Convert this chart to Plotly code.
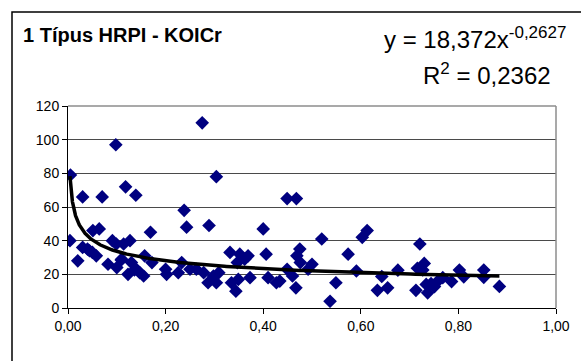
import numpy as np
import plotly.graph_objects as go

# ---- data ----
x_vals = [0.005, 0.004, 0.020, 0.030, 0.030, 0.040, 0.050, 0.058, 0.051, 0.064,
          0.070, 0.082, 0.091, 0.098, 0.099, 0.100, 0.110, 0.114, 0.118, 0.123,
          0.127, 0.130, 0.139, 0.140, 0.147, 0.155, 0.157, 0.169, 0.172, 0.200,
          0.202, 0.226, 0.233, 0.238, 0.243, 0.250, 0.263, 0.275, 0.278, 0.287,
          0.289, 0.298, 0.304, 0.304, 0.309, 0.332, 0.335, 0.344, 0.347, 0.349,
          0.352, 0.362, 0.369, 0.373, 0.400, 0.406, 0.410, 0.427, 0.434, 0.449,
          0.449, 0.460, 0.467, 0.468, 0.469, 0.475, 0.476, 0.492, 0.500, 0.520,
          0.537, 0.549, 0.574, 0.591, 0.603, 0.613, 0.634, 0.643, 0.655, 0.676,
          0.713, 0.716, 0.721, 0.730, 0.727, 0.734, 0.737, 0.744, 0.751, 0.760,
          0.768, 0.786, 0.802, 0.811, 0.852, 0.852, 0.884, 0.136, 0.109, 0.044]
y_vals = [79, 40, 28, 66, 36, 35, 33, 31, 46, 47,
          66, 26, 40, 97, 38, 24, 29, 38, 72, 20,
          40, 27, 67, 23, 21, 19, 31, 45, 27, 23,
          20, 21, 27, 58, 48, 23, 23, 110, 21, 15,
          49, 19, 78, 15, 21, 33, 15, 10, 27, 17,
          32, 29, 31, 18, 47, 32, 18, 15, 16, 65,
          23, 19, 12, 65, 31, 35, 27, 23, 26, 41,
          4, 15, 32, 22, 42, 46, 10.5, 18.7, 12, 22.5,
          10.5, 23.6, 38, 26.5, 22.6, 14, 9, 14.5, 12.7, 16.6,
          18, 15.7, 22.6, 18.5, 22.6, 18.2, 12.8, 22.6, 28.5, 34]

trend_a = 18.372
trend_b = -0.2627
title_text = "<b>1 Típus HRPI - KOICr</b>"
eq_line1 = "y = 18,372x<sup><span style='font-size:17px'>-0,2627</span></sup>"
eq_line2 = "R<sup><span style='font-size:17px'>2</span></sup> = 0,2362"
x_ticks = [0.0, 0.2, 0.4, 0.6, 0.8, 1.0]
y_ticks = [0, 20, 40, 60, 80, 100, 120]

# ---- layout geometry (pixels) ----
W, H = 581, 361
L, R, T, B = 68, 25, 106, 53
pw, ph = W - L - R, H - T - B


def pxx(px):
    return (px - L) / pw


def pxy(py):
    return (H - B - py) / ph


FONT = "Liberation Sans, Arial, sans-serif"

tx = np.geomspace(min(x_vals), max(x_vals), 400)
ty = trend_a * tx ** trend_b

fig = go.Figure()
fig.add_trace(go.Scatter(
    x=x_vals, y=y_vals, mode="markers",
    marker=dict(symbol="diamond", size=10.5, color="#000080", line=dict(width=0)),
    showlegend=False, hoverinfo="skip"))
fig.add_trace(go.Scatter(
    x=tx, y=ty, mode="lines", line=dict(color="black", width=3.5),
    showlegend=False, hoverinfo="skip"))

fig.update_layout(
    width=W, height=H,
    margin=dict(l=L, r=R, t=T, b=B, pad=0),
    paper_bgcolor="white", plot_bgcolor="white",
    separators=",.",
    font=dict(family=FONT, size=14, color="black"),
    xaxis=dict(range=[0, 1], tickvals=x_ticks, tickformat=".2f",
               showgrid=False, zeroline=False,
               showline=True, linecolor="black", linewidth=1,
               ticks="outside", ticklen=5, tickcolor="black", tickwidth=1,
               tickfont=dict(family=FONT, size=14, color="black")),
    yaxis=dict(range=[0, 120], tickvals=y_ticks,
               showgrid=True, gridcolor="#4a4a4a", gridwidth=1,
               zeroline=False,
               showline=True, linecolor="black", linewidth=1,
               ticks="outside", ticklen=5, tickcolor="black", tickwidth=1,
               tickfont=dict(family=FONT, size=14, color="black")),
    shapes=[
        dict(type="line", xref="paper", yref="paper", x0=0, x1=1, y0=1, y1=1,
             line=dict(color="#8c8c8c", width=1.5), layer="above"),
        dict(type="line", xref="paper", yref="paper", x0=1, x1=1, y0=0, y1=1,
             line=dict(color="#8c8c8c", width=1.5), layer="above"),
        dict(type="rect", xref="paper", yref="paper",
             x0=pxx(12), x1=pxx(640), y0=pxy(12), y1=pxy(420),
             line=dict(color="black", width=1.5), layer="above"),
    ],
    annotations=[
        dict(text=title_text, xref="paper", yref="paper", x=pxx(21), y=pxy(35),
             xanchor="left", yanchor="middle", showarrow=False,
             font=dict(family=FONT, size=20, color="black")),
        dict(text=eq_line1, xref="paper", yref="paper", x=pxx(382), y=pxy(38),
             xanchor="left", yanchor="middle", showarrow=False,
             font=dict(family=FONT, size=24, color="black")),
        dict(text=eq_line2, xref="paper", yref="paper", x=pxx(553), y=pxy(74),
             xanchor="right", yanchor="middle", showarrow=False,
             font=dict(family=FONT, size=24, color="black")),
    ],
)

fig.write_html("out.html")
